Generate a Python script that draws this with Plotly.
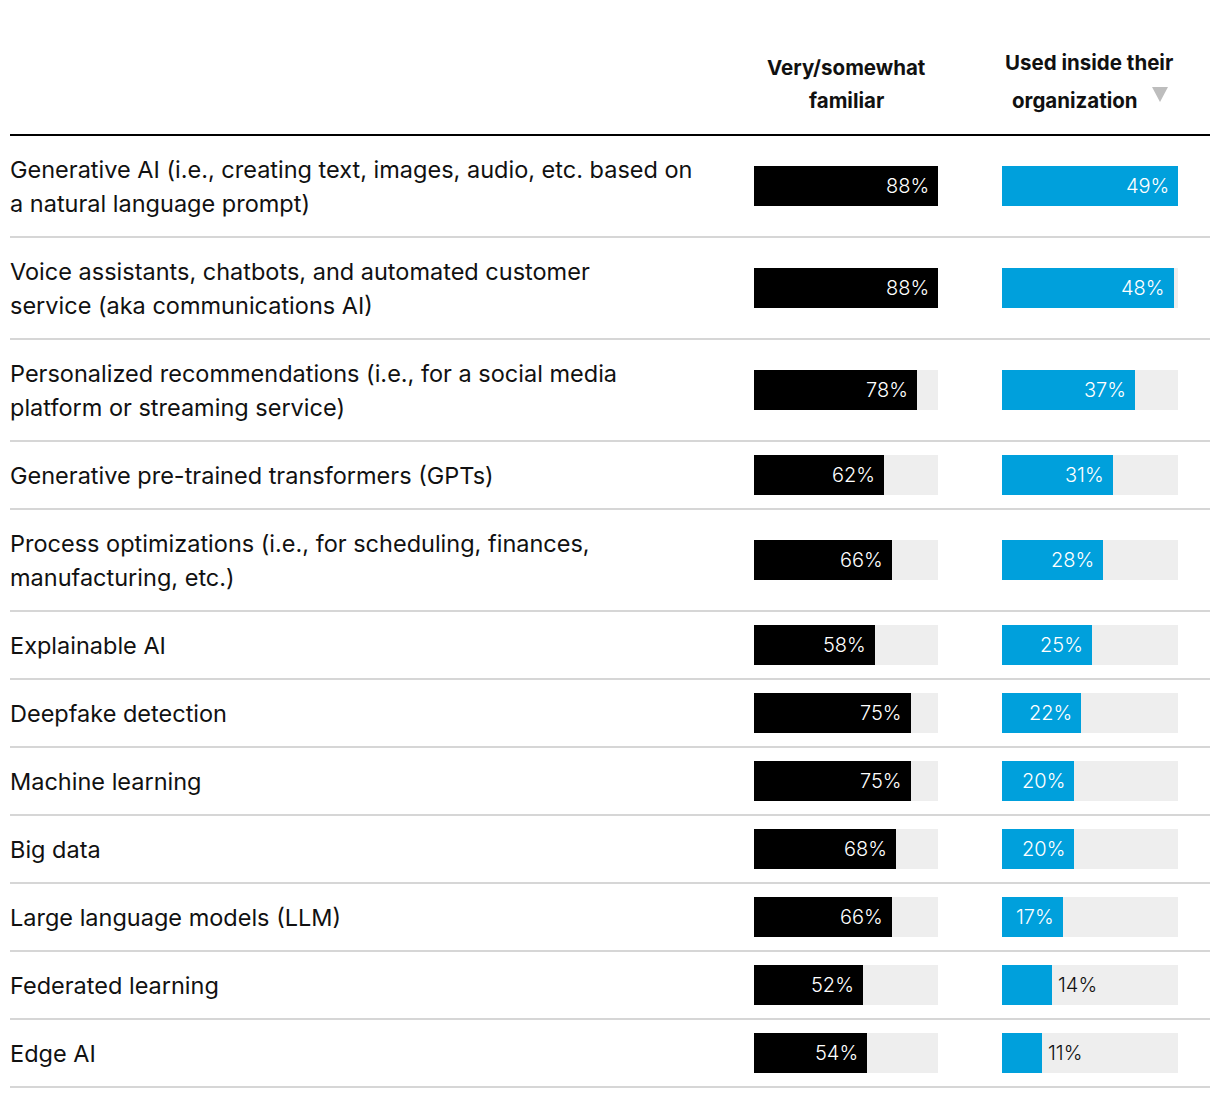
import plotly.graph_objects as go

# ---------------- data ----------------
categories = [
    "Generative AI (i.e., creating text, images, audio, etc. based on<br>a natural language prompt)",
    "Voice assistants, chatbots, and automated customer<br>service (aka communications AI)",
    "Personalized recommendations (i.e., for a social media<br>platform or streaming service)",
    "Generative pre-trained transformers (GPTs)",
    "Process optimizations (i.e., for scheduling, finances,<br>manufacturing, etc.)",
    "Explainable AI",
    "Deepfake detection",
    "Machine learning",
    "Big data",
    "Large language models (LLM)",
    "Federated learning",
    "Edge AI",
]
familiar = [88, 88, 78, 62, 66, 58, 75, 75, 68, 66, 52, 54]
used = [49, 48, 37, 31, 28, 25, 22, 20, 20, 17, 14, 11]
column_titles = ["Very/somewhat<br>familiar", "Used inside their<br>organization"]

# ---------------- layout constants ----------------
W, H = 1220, 1098
OFF = 8          # page offset of the plot div (body margin)
TOP = 135
ROW_H1, ROW_H2 = 68, 102
LINE_GAP = 34
BAR_H = 40
X1 = (754, 938)
X2 = (1002, 1178)
BLACK = "#000000"
BLUE = "#00a0dc"
TRACK = "#eeeeee"
SEP = "#d6d6d6"
FONT = "Inter, Roboto, Arial, sans-serif"


def px(x):
    """page x pixel -> paper fraction"""
    return (x - OFF) / W


# row geometry (page-pixel units on the y axis)
tops, centers, bottoms = [], [], []
y = TOP
for c in categories:
    h = ROW_H2 if "<br>" in c else ROW_H1
    tops.append(y)
    centers.append(y + h / 2)
    bottoms.append(y + h)
    y += h

fig = go.Figure()

max1, max2 = max(familiar), max(used)
for vals, mx, color, xa in [(familiar, max1, BLACK, "x"), (used, max2, BLUE, "x2")]:
    fig.add_trace(go.Bar(x=[mx] * len(vals), y=centers, orientation="h", width=BAR_H,
                         marker=dict(color=TRACK, line=dict(width=0)), xaxis=xa, yaxis="y",
                         hoverinfo="skip", showlegend=False))
    fig.add_trace(go.Bar(x=vals, y=centers, orientation="h", width=BAR_H,
                         marker=dict(color=color, line=dict(width=0)), xaxis=xa, yaxis="y",
                         showlegend=False, hovertemplate="%{x}%<extra></extra>"))

annotations = []
# value labels
for vals, mx, (a, b), xa in [(familiar, max1, X1, "x"), (used, max2, X2, "x2")]:
    for v, cy in zip(vals, centers):
        bar_px = v / mx * (b - a)
        inside = bar_px >= 58
        annotations.append(dict(
            x=v, y=cy, xref=xa, yref="y", text=f"{v}%", showarrow=False,
            xanchor="right" if inside else "left", yanchor="middle",
            xshift=-7 if inside else 4,
            font=dict(family=FONT, size=20, weight=300,
                      color="#ffffff" if inside else "#111111"),
        ))

# row labels (one annotation per line)
for c, cy in zip(categories, centers):
    lines = c.split("<br>")
    n = len(lines)
    for i, ln in enumerate(lines):
        annotations.append(dict(
            x=px(8), y=cy + (i - (n - 1) / 2) * LINE_GAP, xref="paper", yref="y",
            text=ln, showarrow=False, xanchor="left", yanchor="middle",
            font=dict(family=FONT, size=23.5, color="#111111"),
        ))

# column titles
hdr_font = dict(family=FONT, size=20.5, color="#111111", weight=700)
l1, l2 = column_titles[0].split("<br>")
annotations.append(dict(x=px(846), y=67, xref="paper", yref="y", text=l1, showarrow=False,
                        xanchor="center", yanchor="middle", font=hdr_font))
annotations.append(dict(x=px(846), y=100, xref="paper", yref="y", text=l2, showarrow=False,
                        xanchor="center", yanchor="middle", font=hdr_font))
l1, l2 = column_titles[1].split("<br>")
annotations.append(dict(x=px(1089), y=62, xref="paper", yref="y", text=l1, showarrow=False,
                        xanchor="center", yanchor="middle", font=hdr_font))
annotations.append(dict(x=px(1075), y=100, xref="paper", yref="y", text=l2, showarrow=False,
                        xanchor="center", yanchor="middle", font=hdr_font))

shapes = []
# header rule
shapes.append(dict(type="line", xref="paper", yref="y", x0=px(10), x1=px(1210), y0=TOP, y1=TOP,
                   line=dict(color="#000000", width=2)))
# row separators
for bt in bottoms:
    shapes.append(dict(type="line", xref="paper", yref="y", x0=px(10), x1=px(1210), y0=bt, y1=bt,
                       line=dict(color=SEP, width=2)))
# sort triangle
shapes.append(dict(type="path", xref="paper", yref="y",
                   path=f"M {px(1152)} 87 L {px(1168)} 87 L {px(1160)} 102 Z",
                   fillcolor="#bdbdbd", line=dict(width=0)))

fig.update_layout(
    width=W, height=H, autosize=False,
    margin=dict(l=0, r=0, t=0, b=0),
    paper_bgcolor="#ffffff", plot_bgcolor="#ffffff",
    barmode="overlay", bargap=0,
    xaxis=dict(domain=[px(X1[0]), px(X1[1])], range=[0, max1], visible=False, fixedrange=True),
    xaxis2=dict(domain=[px(X2[0]), px(X2[1])], range=[0, max2], visible=False, fixedrange=True,
                anchor="y"),
    yaxis=dict(range=[H + OFF, OFF], visible=False, fixedrange=True, domain=[0, 1]),
    annotations=annotations, shapes=shapes,
    font=dict(family=FONT),
)

fig.write_html("out.html")
